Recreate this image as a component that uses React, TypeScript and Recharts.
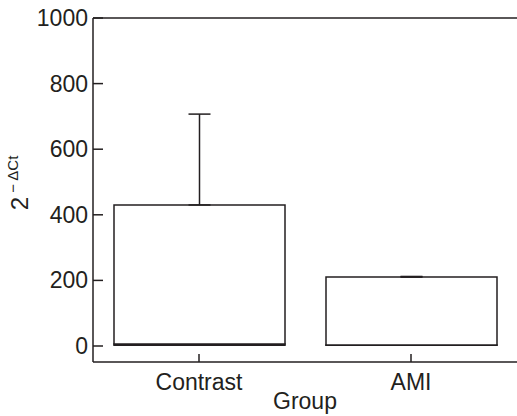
import { BarChart, Bar, XAxis, YAxis, ErrorBar, ReferenceLine } from 'recharts'

const groups = ['Contrast', 'AMI']
const q1 = [2, 2]
const medians = [6, 3]
const q3 = [430, 210]
const maxes = [707, 212]
const yTicks = [0, 200, 400, 600, 800, 1000]

const INK = '#231f20'
const FONT = '"Liberation Sans", Arial, sans-serif'

const data = groups.map((g, i) => ({
  group: g,
  base: q1[i],
  lower: medians[i] - q1[i],
  upper: q3[i] - medians[i],
  whisker: [0, maxes[i] - q3[i]],
}))

function YTick({ x, y, payload }: any) {
  return (
    <g>
      <line x1={x + 5} x2={x + 15} y1={y} y2={y} stroke={INK} strokeWidth={1.5} />
      <text x={x} y={y} dy={8} textAnchor="end" fontSize={23} fill={INK} fontFamily={FONT}>
        {payload.value}
      </text>
    </g>
  )
}

function XTick({ x, y, payload }: any) {
  return (
    <g>
      <line x1={x} x2={x} y1={y - 8} y2={y} stroke={INK} strokeWidth={1.5} />
      <text x={x} y={y + 28} textAnchor="middle" fontSize={23} fill={INK} fontFamily={FONT}>
        {payload.value}
      </text>
    </g>
  )
}

export default function App() {
  return (
    <div style={{ position: 'absolute', left: 0, top: 0, background: '#fff' }}>
      <BarChart
        width={517}
        height={416}
        data={data}
        margin={{ top: 18, right: 0, bottom: 0, left: 0 }}
        barSize={171}
      >
        <XAxis
          dataKey="group"
          height={54}
          tickSize={0}
          tickMargin={0}
          tick={<XTick />}
          axisLine={{ stroke: INK, strokeWidth: 1.5 }}
          label={{
            content: ({ viewBox }: any) => (
              <text
                x={viewBox.x + viewBox.width / 2}
                y={viewBox.y + 47}
                textAnchor="middle"
                fontSize={23}
                fill={INK}
                fontFamily={FONT}
              >
                Group
              </text>
            ),
          }}
        />
        <YAxis
          width={93}
          domain={[0, 1000]}
          ticks={yTicks}
          padding={{ top: 0, bottom: 16 }}
          tickSize={0}
          tickMargin={5}
          tick={<YTick />}
          axisLine={{ stroke: INK, strokeWidth: 1.5 }}
          label={{
            content: () => {
              const cx = 28
              const cy = 183
              return (
                <text
                  x={cx}
                  y={cy}
                  transform={`rotate(-90, ${cx}, ${cy})`}
                  textAnchor="middle"
                  fontSize={24}
                  fill={INK}
                  fontFamily={FONT}
                >
                  2
                  <tspan fontSize={15} dy={-10}>
                    {' − ΔCt'}
                  </tspan>
                </text>
              )
            },
          }}
        />
        <ReferenceLine y={1000} stroke={INK} strokeWidth={1.5} />
        <Bar dataKey="base" stackId="box" fill="none" stroke="none" isAnimationActive={false} />
        <Bar dataKey="lower" stackId="box" fill="#fff" stroke={INK} strokeWidth={1.5} isAnimationActive={false} />
        <Bar dataKey="upper" stackId="box" fill="#fff" stroke={INK} strokeWidth={1.5} isAnimationActive={false}>
          <ErrorBar dataKey="whisker" direction="y" width={11} stroke={INK} strokeWidth={1.5} />
        </Bar>
      </BarChart>
    </div>
  )
}
